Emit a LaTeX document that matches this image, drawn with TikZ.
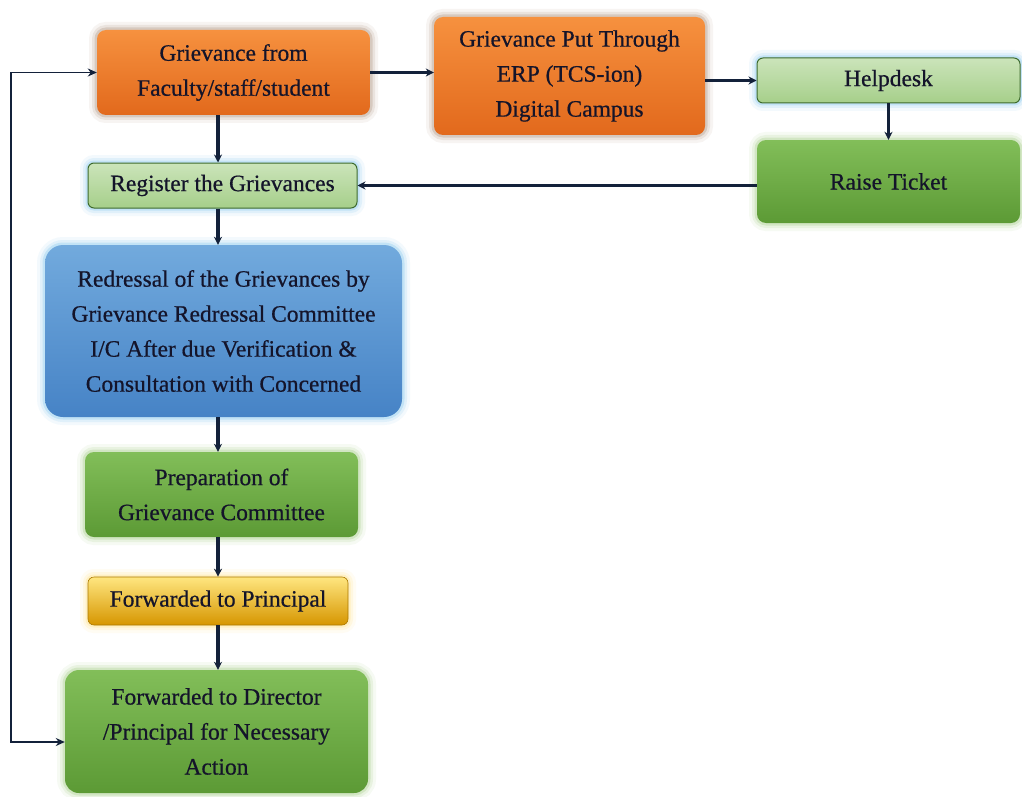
\documentclass[tikz,border=0pt]{standalone}
\usepackage{fontspec}
\newfontfamily\diagserif{Liberation Serif}[FakeBold=0.6]
\usetikzlibrary{arrows.meta,calc}
\definecolor{txt}{HTML}{14142A}
\definecolor{arr}{HTML}{13213A}
\definecolor{orT}{HTML}{F6913F}
\definecolor{orB}{HTML}{E2691C}
\definecolor{lgT}{HTML}{CBE4BA}
\definecolor{lgB}{HTML}{A6CF8A}
\definecolor{lgD}{HTML}{3E6B2E}
\definecolor{gT}{HTML}{82BE59}
\definecolor{gB}{HTML}{5C9A35}
\definecolor{bT}{HTML}{72AADD}
\definecolor{bB}{HTML}{4683C6}
\definecolor{yT}{HTML}{FFE680}
\definecolor{yM}{HTML}{FFC000}
\definecolor{yB}{HTML}{D69600}
\definecolor{glowblue}{HTML}{8CCCF0}
\definecolor{glowgreen}{HTML}{A9D18E}
\definecolor{glowyellow}{HTML}{FFE48A}
\definecolor{glowgrey}{HTML}{B39A88}
\tikzset{
  x=1pt,y=-1pt,
  glow/.style={preaction={draw=#1,line width=16pt,opacity=0.10},
               preaction={draw=#1,line width=10pt,opacity=0.18},
               preaction={draw=#1,line width=5pt,opacity=0.35}},
  box/.style={rounded corners=9pt,align=center,text=txt,inner sep=2pt,
              font=\diagserif\fontsize{23.5}{35}\selectfont},
  orangebox/.style={box,glow=glowgrey,top color=orT,bottom color=orB},
  lightbox/.style={box,glow=glowblue,top color=lgT,bottom color=lgB,draw=lgD,line width=1pt,rounded corners=6pt},
  greenbox/.style={box,glow=glowgreen,top color=gT,bottom color=gB},
  bluebox/.style={box,glow=glowblue,top color=bT,bottom color=bB,rounded corners=18pt},
  goldbox/.style={box,glow=glowyellow,top color=yT,middle color=yM,bottom color=yB,draw=yB!80!black,line width=0.6pt,rounded corners=6pt},
  link/.style={draw=arr,line width=3.2pt,-{Stealth[length=8pt,width=8pt]}},
  loop/.style={draw=arr,line width=1.6pt,{Stealth[length=9pt,width=8pt]}-{Stealth[length=9pt,width=8pt]}}
}
\begin{document}
\begin{tikzpicture}
\useasboundingbox (0,0) rectangle (1022,797);
\fill[white] (0,0) rectangle (1022,797);

\node[orangebox,minimum width=273pt,minimum height=85pt] (src) at (233.5,72.5) {Grievance from\\Faculty/staff/student};
\node[orangebox,minimum width=271pt,minimum height=118pt] (erp) at (569.5,76) {Grievance Put Through\\ERP (TCS-ion)\\Digital Campus};
\node[lightbox,minimum width=263pt,minimum height=45pt] (help) at (888.5,80.5) {Helpdesk};
\node[greenbox,minimum width=263pt,minimum height=83pt] (raise) at (888.5,181.5) {Raise Ticket};
\node[lightbox,minimum width=269pt,minimum height=45pt] (reg) at (222.5,185.5) {Register the Grievances};
\node[bluebox,minimum width=357pt,minimum height=172pt] (redr) at (223.5,331) {Redressal of the Grievances by\\Grievance Redressal Committee\\I/C After due Verification \&\\Consultation with Concerned};
\node[greenbox,minimum width=273pt,minimum height=85pt] (prep) at (221.5,494.5) {Preparation of\\Grievance Committee};
\node[goldbox,minimum width=260pt,minimum height=48pt] (fwdP) at (218,601) {Forwarded to Principal};
\node[greenbox,minimum width=303pt,minimum height=123pt,rounded corners=14pt] (fwdD) at (216.5,731.5) {Forwarded to Director\\/Principal for Necessary\\Action};

\coordinate (colx) at (218,0);
\coordinate (lx) at (11,0);
\coordinate (fwdDin) at ([yshift=-10.5pt]fwdD.west);

\draw[link] (src.east) -- (src.east -| erp.west);
\draw[link] (erp.east |- help.west) -- (help.west);
\draw[link,line width=2.2pt] (help.south) -- (raise.north);
\draw[link] (raise.west |- reg.east) -- (reg.east);
\draw[link,line width=4.5pt] (src.south -| colx) -- (reg.north -| colx);
\draw[link] (reg.south -| colx) -- (redr.north -| colx);
\draw[link] (redr.south -| colx) -- (prep.north -| colx);
\draw[link] (prep.south -| colx) -- (fwdP.north -| colx);
\draw[link] (fwdP.south -| colx) -- (fwdD.north -| colx);
\draw[loop] (src.west) -- (lx |- src.west) -- (lx |- fwdDin) -- (fwdDin);
\end{tikzpicture}
\end{document}
